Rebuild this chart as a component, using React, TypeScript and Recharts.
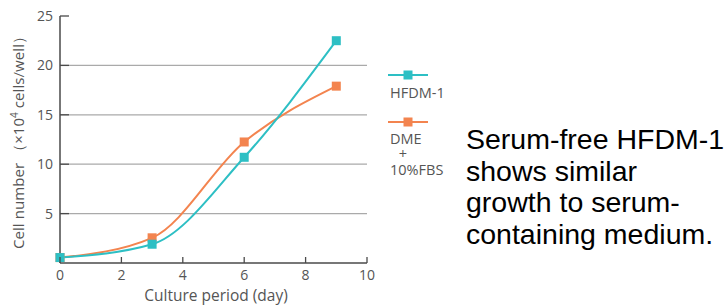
import React from 'react';
import { LineChart, Line, XAxis, YAxis, ReferenceLine, Legend } from 'recharts';

const days = [0, 3, 6, 9];
const hfdm1 = [0.55, 1.9, 10.7, 22.5];
const dmeFbs = [0.55, 2.55, 12.25, 17.9];
const xTicks = [0, 2, 4, 6, 8, 10];
const yTicks = [5, 10, 15, 20, 25];
const gridValues = [5, 10, 15, 20];
const seriesNames = ['HFDM-1', 'DME + 10%FBS'];
const caption = ['Serum-free HFDM-1', 'shows similar', 'growth to serum-', 'containing medium.'];

const TEAL = '#2dbfc4';
const ORANGE = '#f3844f';
const AXIS = '#4a4a4a';
const TEXT = '#555555';
const FONT = '"Open Sans", sans-serif';

const data = days.map((d, i) => ({ day: d, hfdm1: hfdm1[i], dme: dmeFbs[i] }));

const SquareDot = (color: string) => (props: any) => {
  const { cx, cy, index } = props;
  if (cx == null || cy == null) return <g key={index} />;
  return <rect key={index} x={cx - 4.5} y={cy - 4.5} width={9} height={9} fill={color} />;
};

const YTick = (props: any) => {
  const { x, y, payload } = props;
  const ax = x + 6;
  return (
    <g>
      <line x1={ax} x2={ax + 9} y1={y} y2={y} stroke={AXIS} strokeWidth={1.3} />
      <text x={x - 1} y={y} dy="0.36em" textAnchor="end" fill={TEXT} fontSize={14} fontFamily={FONT}>
        {payload.value}
      </text>
    </g>
  );
};

const XTick = (props: any) => {
  const { x, y, payload } = props;
  const ay = y - 6;
  return (
    <g>
      <line x1={x} x2={x} y1={ay} y2={ay - 6} stroke={AXIS} strokeWidth={1.3} />
      <text x={x} y={y} dy="0.75em" textAnchor="middle" fill={TEXT} fontSize={14} fontFamily={FONT}>
        {payload.value}
      </text>
    </g>
  );
};

const LegendContent = (props: any) => {
  const payload = [...(props.payload || [])].sort(
    (a: any, b: any) => seriesNames.indexOf(a.value) - seriesNames.indexOf(b.value)
  );
  return (
    <div style={{ position: 'relative', width: 80, height: 130, fontFamily: FONT, fontSize: 14.5, color: TEXT }}>
      {payload.map((p: any, i: number) => {
        const base = i * 47;
        const lines = String(p.value).split(' + ');
        return (
          <div key={i} style={{ position: 'absolute', left: 0, top: base, width: 80 }}>
            <svg width={50} height={22} style={{ display: 'block' }}>
              <line x1={3} x2={43} y1={15} y2={15} stroke={p.color} strokeWidth={2} />
              <rect x={18.5} y={10.5} width={9} height={9} fill={p.color} />
            </svg>
            {lines.length === 1 ? (
              <div style={{ position: 'absolute', left: 5, top: 23, lineHeight: '20px', whiteSpace: 'nowrap' }}>
                {lines[0]}
              </div>
            ) : (
              <div style={{ position: 'absolute', left: 5, top: 24, lineHeight: '15px', whiteSpace: 'nowrap' }}>
                {lines[0]}
                <br />
                <span style={{ display: 'inline-block', width: 26, textAlign: 'center' }}>+</span>
                <br />
                <span style={{ position: 'relative', top: 1 }}>{lines[1]}</span>
              </div>
            )}
          </div>
        );
      })}
    </div>
  );
};

export default function App() {
  return (
    <div style={{ position: 'absolute', left: 0, top: 0, width: 728, height: 307, background: '#fff' }}>
      <LineChart width={728} height={307} data={data} margin={{ top: 16, right: 361, bottom: 14, left: 15 }}>
        {gridValues.map((v) => (
          <ReferenceLine key={v} y={v} stroke="#aaaaaa" strokeWidth={1.3} />
        ))}
        <XAxis
          dataKey="day"
          type="number"
          domain={[0, 10]}
          ticks={xTicks}
          height={30}
          tickSize={0}
          tickMargin={6}
          tickLine={false}
          axisLine={{ stroke: AXIS, strokeWidth: 1.5 }}
          tick={<XTick />}
          interval={0}
          label={{
            content: () => (
              <text x={216} y={301} textAnchor="middle" fill={TEXT} fontSize={15.5} fontFamily={FONT}>
                Culture period (day)
              </text>
            ),
          }}
        />
        <YAxis
          type="number"
          domain={[0, 25]}
          ticks={yTicks}
          width={45}
          tickSize={0}
          tickMargin={6}
          tickLine={false}
          axisLine={{ stroke: AXIS, strokeWidth: 1.5 }}
          tick={<YTick />}
          interval={0}
          label={{
            content: () => (
              <text
                x={0}
                y={0}
                transform="translate(24,139) rotate(-90)"
                textAnchor="middle"
                fill={TEXT}
                fontSize={15}
                fontFamily={FONT}
                textLength={220}
                lengthAdjust="spacing"
              >
                Cell number （×10
                <tspan dy={-6} fontSize={10}>4</tspan>
                <tspan dy={6}> cells/well）</tspan>
              </text>
            ),
          }}
        />
        <Legend
          verticalAlign="middle"
          align="center"
          layout="vertical"
          wrapperStyle={{ position: 'absolute', left: 385, top: 60, width: 80, height: 130 }}
          content={<LegendContent />}
        />
        <Line
          type="monotone"
          dataKey="dme"
          name={seriesNames[1]}
          stroke={ORANGE}
          strokeWidth={2}
          dot={SquareDot(ORANGE)}
          activeDot={false}
          isAnimationActive={false}
        />
        <Line
          type="monotone"
          dataKey="hfdm1"
          name={seriesNames[0]}
          stroke={TEAL}
          strokeWidth={2}
          dot={SquareDot(TEAL)}
          activeDot={false}
          isAnimationActive={false}
        />
      </LineChart>
      <div
        style={{
          position: 'absolute',
          left: 466,
          top: 124,
          fontFamily: '"Liberation Sans", Arial, sans-serif',
          fontSize: 28.5,
          lineHeight: '31.6px',
          color: '#000',
          whiteSpace: 'nowrap',
        }}
      >
        {caption.map((c, i) => (
          <div key={i}>{c}</div>
        ))}
      </div>
    </div>
  );
}
